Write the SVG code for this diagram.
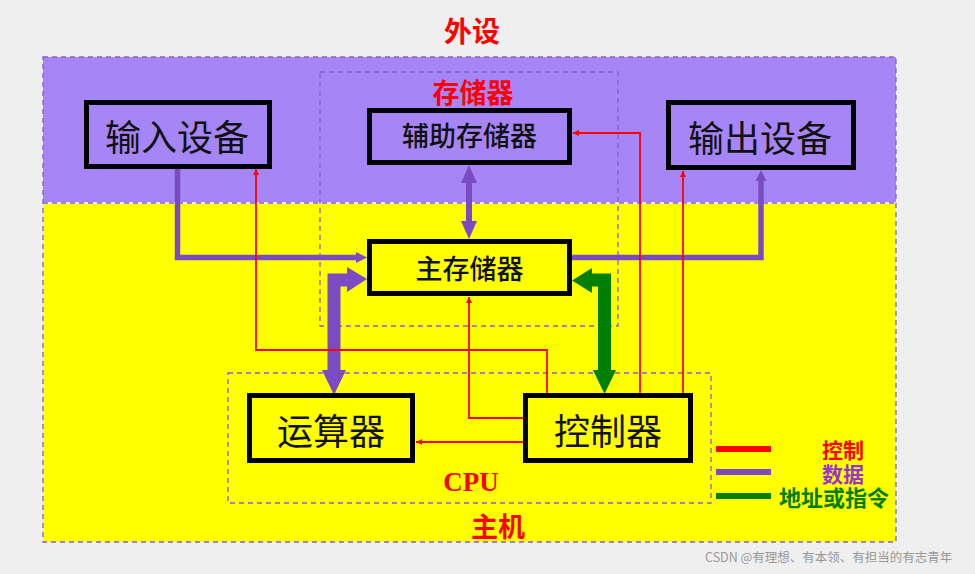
<svg xmlns="http://www.w3.org/2000/svg" width="975" height="574" viewBox="0 0 975 574">
<style>
.node{stroke:#000;stroke-width:5}
.big{font-family:"Noto Sans CJK SC","Noto Sans",sans-serif;font-size:36px;fill:#111;text-anchor:middle}
.mid{font-family:"Noto Sans CJK SC","Noto Sans",sans-serif;font-size:27px;font-weight:500;fill:#111;text-anchor:middle}
.lbl{font-family:"Noto Sans CJK SC","Noto Sans",sans-serif;font-weight:700;text-anchor:middle}
.dash{fill:none;stroke:#8a5cd0;stroke-width:1.3;stroke-dasharray:5,4}
.ctl{fill:none;stroke:#ff0000;stroke-width:1.8}
.dat{fill:none;stroke:#7b4bc4;stroke-width:5.5}
</style>
<defs>
<marker id="ar" viewBox="0 0 10 10" refX="10" refY="5" markerWidth="6" markerHeight="6" markerUnits="userSpaceOnUse" orient="auto"><path d="M0,0L10,5L0,10z" fill="#ff0000"/></marker>
</defs>
<rect x="0" y="0" width="975" height="574" fill="#efefef"/>
<g id="regions">
<rect x="43" y="57" width="853" height="146" fill="#a686f6"/>
<rect x="43" y="203" width="853" height="339" fill="#ffff00"/>
<line x1="43" y1="203" x2="896" y2="203" stroke="#fff" stroke-width="1.5"/>
<line x1="43" y1="203" x2="896" y2="203" class="dash"/>
<rect x="43" y="57" width="853" height="485" class="dash"/>
<rect x="320" y="72" width="298" height="254" class="dash"/>
<rect x="228" y="373" width="483" height="130" class="dash"/>
<text x="472" y="42" class="lbl" font-size="28" fill="#ff0000">外设</text>
<text x="473" y="103" class="lbl" font-size="27" fill="#ff0000">存储器</text>
<text x="471" y="491" font-family="'Liberation Serif',serif" font-weight="700" font-size="27" fill="#ff0000" text-anchor="middle">CPU</text>
<text x="498" y="537" class="lbl" font-size="27" fill="#ff0000">主机</text>
</g>
<g id="connectors">
<polyline class="dat" points="177.5,168 177.5,257.5 358,257.5"/>
<path d="M356,252L367,257.5L356,263z" fill="#7b4bc4"/>
<polyline class="dat" points="572,257.5 761,257.5 761,180"/>
<path d="M755.5,181L761,170L766.5,181z" fill="#7b4bc4"/>
<line x1="469" y1="180" x2="469" y2="224" stroke="#7b4bc4" stroke-width="6"/>
<path d="M461,183L469,165L477,183z M461,221L469,239L477,221z" fill="#7b4bc4"/>
<polyline points="334,372 334,280 349,280" fill="none" stroke="#7b4bc4" stroke-width="13"/>
<path d="M347,267L367,279L347,292z M322,370L346,370L334,395z" fill="#7b4bc4"/>
<polyline points="604.5,372 604.5,280 590,280" fill="none" stroke="#008000" stroke-width="13"/>
<path d="M592,268L572,280.5L592,293z M593,370L616,370L604.5,394z" fill="#008000"/>
<polyline class="ctl" points="547,393 547,350 256,350 256,169" marker-end="url(#ar)"/>
<polyline class="ctl" points="525,418 469,418 469,297" marker-end="url(#ar)"/>
<polyline class="ctl" points="525,442 416,442" marker-end="url(#ar)"/>
<polyline class="ctl" points="640,393 640,133 573,133" marker-end="url(#ar)"/>
<polyline class="ctl" points="683,393 683,171" marker-end="url(#ar)"/>
</g>
<g id="n-input"><rect class="node" x="86.5" y="102.5" width="183" height="64" fill="#a686f6"/><text x="177" y="151" class="big">输入设备</text></g>
<g id="n-aux"><rect class="node" x="369.5" y="110.5" width="200" height="52" fill="#a686f6"/><text x="469.5" y="146" class="mid">辅助存储器</text></g>
<g id="n-output"><rect class="node" x="668.5" y="102.5" width="185" height="65" fill="#a686f6"/><text x="760" y="152" class="big">输出设备</text></g>
<g id="n-main"><rect class="node" x="369.5" y="241.5" width="200" height="52" fill="#ffff00"/><text x="469.5" y="279" class="mid">主存储器</text></g>
<g id="n-alu"><rect class="node" x="249.5" y="395.5" width="163" height="65" fill="#ffff00"/><text x="331" y="445" class="big">运算器</text></g>
<g id="n-ctrl"><rect class="node" x="525.5" y="395.5" width="165" height="65" fill="#ffff00"/><text x="608" y="445" class="big">控制器</text></g>
<g id="legend">
<line x1="716" y1="449" x2="771" y2="449" stroke="#ff0000" stroke-width="6"/>
<line x1="716" y1="472" x2="771" y2="472" stroke="#7b4bc4" stroke-width="6"/>
<line x1="716" y1="496" x2="771" y2="496" stroke="#008000" stroke-width="6"/>
<text x="843" y="458" class="lbl" font-size="21" fill="#ff0000">控制</text>
<text x="843" y="482" class="lbl" font-size="21" fill="#9933cc">数据</text>
<text x="834" y="506" class="lbl" font-size="22" fill="#008000">地址或指令</text>
</g>
<text x="705" y="562" font-family="'Noto Sans CJK SC','Noto Sans',sans-serif" font-size="12.5" fill="#999">CSDN @有理想、有本领、有担当的有志青年</text>
</svg>
